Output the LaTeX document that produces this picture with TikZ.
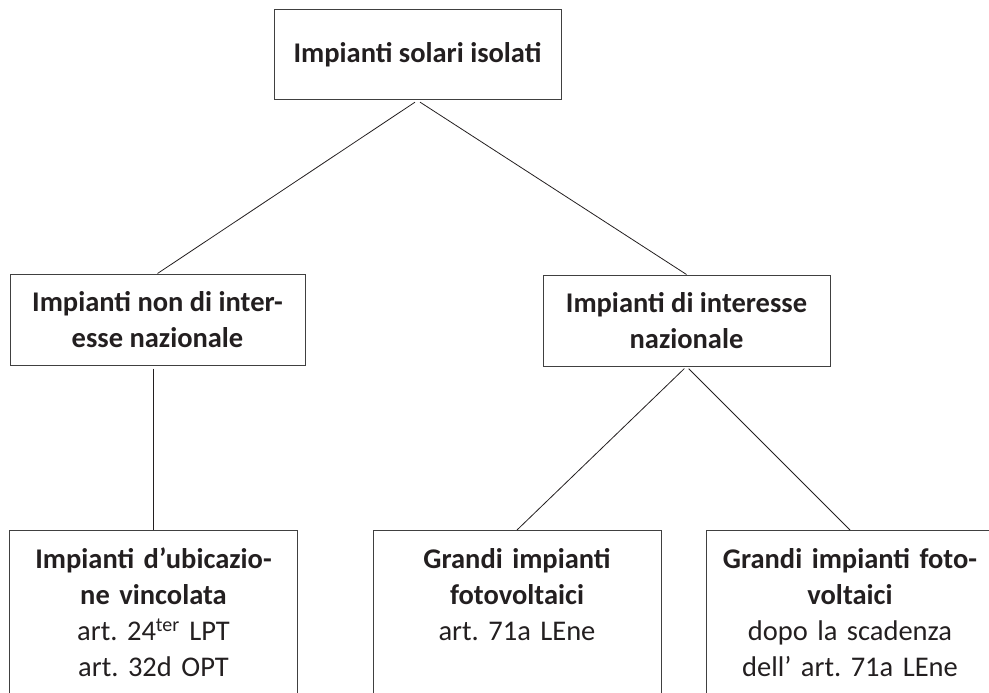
\documentclass[tikz,border=0pt]{standalone}
\usepackage{fontspec}
\setmainfont{Carlito}
\frenchspacing
\definecolor{T}{RGB}{35,31,32}
\newcommand{\boxfont}{\fontsize{28.5}{36}\selectfont}
\tikzset{
  box/.style={draw=black!75, line width=1pt, text=T, font=\boxfont, inner sep=0pt, align=center},
  leaf/.style={box, anchor=north, text width=288pt, text height=20pt, text depth=150pt, inner ysep=18pt},
  con/.style={draw=T, line width=0.8pt}
}
\begin{document}
\begin{tikzpicture}[x=1pt,y=-1pt]
  \useasboundingbox (0,0) rectangle (989,693);
  \clip (0,0) rectangle (989,693);

  % radice
  \node[box, minimum width=287pt, minimum height=90pt] (isolati) at (417.5,55) {\textbf{Impianti solari isolati}};

  % secondo livello
  \node[box, minimum width=295pt, minimum height=91pt] (noninteresse) at (157.5,319.5) {\textbf{Impianti non di inter-}\\\textbf{esse nazionale}};
  \node[box, minimum width=287pt, minimum height=91pt] (interesse) at (686.5,320.5) {\textbf{Impianti di interesse}\\\textbf{nazionale}};

  % foglie
  \node[leaf] (ubicazione) at (153.5,530) {\textbf{Impianti d’ubicazio-}\\\textbf{ne vincolata}\\art. 24\textsuperscript{ter} LPT\\art. 32d OPT};
  \node[leaf] (grandi) at (517,530) {\textbf{Grandi impianti}\\\textbf{fotovoltaici}\\art. 71a LEne};
  \node[leaf] (scadenza) at (850,530) {\textbf{Grandi impianti foto-}\\\textbf{voltaici}\\dopo la scadenza\\dell’ art. 71a LEne};

  % collegamenti
  \draw[con, shorten <=3pt] (isolati.south) -- (noninteresse.north);
  \draw[con, shorten <=3pt] (isolati.south) -- (interesse.north);
  \draw[con, shorten <=3pt] (noninteresse.south -| ubicazione.north) -- (ubicazione.north);
  \draw[con, shorten <=3pt] (interesse.south) -- (grandi.north);
  \draw[con, shorten <=3pt] (interesse.south) -- (scadenza.north);
\end{tikzpicture}
\end{document}
